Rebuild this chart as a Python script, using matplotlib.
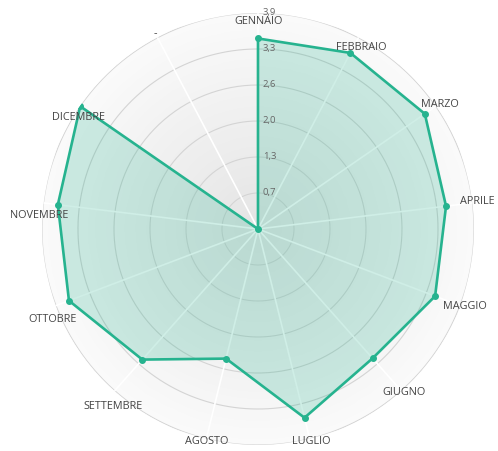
import matplotlib.pyplot as plt
from matplotlib.colors import LinearSegmentedColormap
import numpy as np

plt.rcParams['font.family'] = ['Open Sans', 'DejaVu Sans']

# data
months = ['GENNAIO', 'FEBBRAIO', 'MARZO', 'APRILE', 'MAGGIO', 'GIUGNO',
          'LUGLIO', 'AGOSTO', 'SETTEMBRE', 'OTTOBRE', 'NOVEMBRE', 'DICEMBRE', '-']
values = [3.44, 3.59, 3.66, 3.42, 3.42, 3.12, 3.51, 2.41, 3.15, 3.65, 3.64, 3.90, 0.0]
rticks = [0.65, 1.3, 1.95, 2.6, 3.25, 3.9]
rlabels = ['0,7', '1,3', '2,0', '2,6', '3,3', '3,9']
# label nudges in pixels (dx, dy)
label_shift = [(1, -9), (3, -10), (4, 2), (5, 1), (5, -1), (3, -2),
               (2, -3), (0, -3), (-2, -16), (-3, -14), (-4, -13), (-2, -11), (-2, 4)]

rmax = 3.9
lineColor = '#26b38f'

fig = plt.figure(figsize=(4.98, 4.51), dpi=100)
ax = fig.add_axes([0.0843, 0.0133, 0.8675, 0.9579], projection='polar')
ax.set_theta_zero_location('N')
ax.set_theta_direction(-1)
ax.set_ylim(0, rmax)
ax.axis('off')

n = len(months)
angles = np.linspace(0, 2 * np.pi, n, endpoint=False)

# soft radial background
bg = LinearSegmentedColormap.from_list('bg', ['#e4e4e4', '#fafafa'])
th = np.linspace(0, 2 * np.pi, 200)
rr = np.linspace(0, rmax, 60)
T, R = np.meshgrid(th, rr)
ax.pcolormesh(T, R, R, cmap=bg, vmin=0, vmax=rmax, shading='auto', zorder=0)

# rings
circ = np.linspace(0, 2 * np.pi, 400)
for r in rticks:
    ax.plot(circ, np.full_like(circ, r), color='#d4d4d4', lw=0.8, zorder=1)

# spokes
for a in angles:
    ax.plot([a, a], [0, rmax], color='white', lw=1.2, zorder=2)

# data polygon
a_closed = np.append(angles, angles[0])
v_closed = np.append(values, values[0])
ax.fill(a_closed, v_closed, color=lineColor, alpha=0.22, lw=0, zorder=3)
ax.plot(a_closed, v_closed, color=lineColor, lw=1.9, zorder=4)
ax.scatter(angles, values, s=16, color=lineColor, zorder=5)

# month labels
for a, name, (dx, dy) in zip(angles, months, label_shift):
    ax.annotate(name, xy=(a, rmax), xytext=(dx, dy), textcoords='offset pixels',
                ha='center', va='center', fontsize=7.8, color='#444444', zorder=6)

# radial tick labels
for r, lab in zip(rticks, rlabels):
    ax.annotate(lab, xy=(0, r), xytext=(5, 0), textcoords='offset pixels',
                ha='left', va='center', fontsize=6.8, color='#666666', zorder=6)

plt.savefig('out.png', dpi=100)
